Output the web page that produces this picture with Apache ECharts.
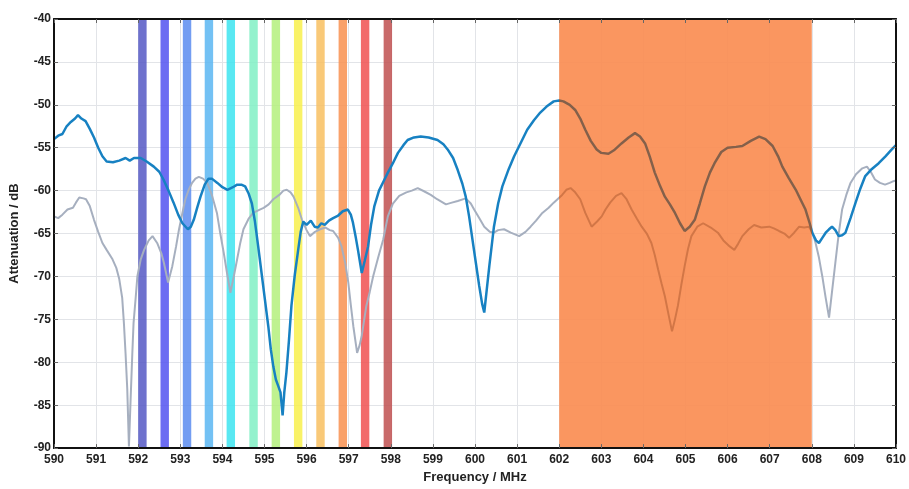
<!DOCTYPE html>
<html>
<head>
<meta charset="utf-8">
<script src="https://cdn.jsdelivr.net/npm/echarts@6/dist/echarts.min.js"></script>
<style>html,body{margin:0;padding:0;background:#fff}#c{width:909px;height:489px}</style>
</head>
<body>
<div id="c"></div>
<script>
// ---- data ----
const blueFreq = [590.0,590.1,590.2,590.3,590.4,590.5,590.57,590.65,590.75,590.85,590.95,591.05,591.15,591.25,591.4,591.55,591.7,591.8,591.9,592.06,592.2,592.37,592.5,592.6,592.72,592.84,592.95,593.05,593.18,593.25,593.32,593.4,593.48,593.58,593.67,593.75,593.88,594.0,594.12,594.25,594.35,594.45,594.54,594.62,594.7,594.77,594.85,594.93,595.01,595.09,595.15,595.21,595.27,595.33,595.38,595.43,595.47,595.52,595.58,595.64,595.72,595.8,595.86,595.92,596.0,596.04,596.1,596.19,596.27,596.35,596.43,596.53,596.63,596.75,596.86,596.98,597.05,597.1,597.17,597.22,597.31,597.38,597.46,597.53,597.61,597.72,597.85,597.93,598.05,598.17,598.3,598.4,598.55,598.71,598.9,599.11,599.25,599.35,599.48,599.59,599.7,599.78,599.86,599.94,600.02,600.1,600.17,600.22,600.28,600.34,600.4,600.45,600.55,600.65,600.8,600.93,601.1,601.24,601.4,601.55,601.7,601.87,602.0,602.1,602.25,602.38,602.5,602.62,602.75,602.89,603.0,603.17,603.3,603.48,603.65,603.8,603.92,604.04,604.15,604.27,604.4,604.51,604.63,604.75,604.87,604.98,605.1,605.22,605.34,605.46,605.58,605.69,605.85,606.0,606.2,606.35,606.55,606.75,606.9,607.07,607.2,607.3,607.45,607.62,607.75,607.85,607.95,608.01,608.1,608.17,608.25,608.33,608.41,608.48,608.56,608.64,608.72,608.8,608.92,609.04,609.15,609.27,609.4,609.59,609.75,609.9,610.0];
const blueDb = [-54.0,-53.6,-53.4,-52.5,-52.0,-51.6,-51.2,-51.6,-51.9,-52.8,-53.8,-55.0,-56.0,-56.6,-56.7,-56.5,-56.2,-56.5,-56.2,-56.2,-56.6,-57.2,-57.8,-58.7,-60.0,-61.4,-62.8,-63.8,-64.5,-64.2,-63.4,-62.0,-60.7,-59.3,-58.6,-58.6,-59.1,-59.6,-59.9,-59.6,-59.3,-59.3,-59.5,-60.3,-61.5,-63.5,-66.5,-69.6,-72.7,-75.8,-78.5,-80.5,-82.0,-82.8,-83.5,-86.2,-83.5,-81.2,-77.5,-73.4,-69.8,-66.9,-64.8,-63.6,-64.0,-64.0,-63.5,-64.2,-64.3,-63.8,-64.0,-63.5,-63.2,-62.9,-62.4,-62.2,-62.8,-63.7,-65.5,-66.9,-69.6,-68.2,-66.5,-64.0,-61.8,-60.0,-58.7,-57.9,-56.8,-55.6,-54.7,-54.1,-53.8,-53.7,-53.8,-54.1,-54.6,-55.2,-56.2,-57.6,-59.2,-60.7,-63.0,-65.7,-68.4,-71.1,-73.2,-74.2,-71.5,-68.8,-66.3,-64.2,-61.5,-59.5,-57.5,-56.0,-54.3,-52.9,-51.8,-50.9,-50.2,-49.6,-49.5,-49.6,-50.0,-50.6,-51.6,-52.9,-54.2,-55.2,-55.6,-55.7,-55.3,-54.5,-53.8,-53.3,-53.7,-54.5,-56.0,-57.9,-59.5,-60.7,-61.6,-62.6,-63.8,-64.7,-64.2,-63.4,-61.5,-59.5,-57.9,-56.8,-55.5,-55.0,-54.9,-54.8,-54.2,-53.7,-54.0,-54.8,-56.0,-57.2,-58.5,-59.9,-61.2,-62.2,-63.8,-64.9,-65.8,-66.1,-65.5,-64.9,-64.5,-64.2,-64.6,-65.3,-65.2,-64.9,-63.2,-61.4,-59.8,-58.3,-57.6,-56.8,-56.0,-55.2,-54.7];

const grayFreq = [590.0,590.1,590.2,590.32,590.45,590.52,590.6,590.7,590.76,590.85,590.95,591.05,591.15,591.25,591.39,591.48,591.55,591.62,591.66,591.7,591.74,591.78,591.82,591.86,591.89,591.94,591.98,592.06,592.14,592.25,592.34,592.45,592.55,592.61,592.71,592.81,592.9,592.97,593.05,593.12,593.2,593.28,593.36,593.44,593.54,593.64,593.75,593.87,593.95,594.03,594.11,594.19,594.27,594.35,594.42,594.5,594.62,594.73,594.85,594.98,595.1,595.21,595.35,595.45,595.53,595.62,595.69,595.8,595.89,596.0,596.08,596.2,596.32,596.45,596.55,596.63,596.75,596.83,596.92,596.99,597.05,597.11,597.2,597.26,597.31,597.42,597.5,597.58,597.7,597.82,597.93,598.05,598.2,598.37,598.5,598.64,598.8,598.95,599.1,599.31,599.45,599.59,599.78,599.9,599.98,600.1,600.22,600.35,600.45,600.55,600.69,600.85,601.05,601.2,601.32,601.45,601.6,601.75,601.87,602.07,602.17,602.27,602.38,602.5,602.62,602.77,602.9,603.01,603.1,603.21,603.35,603.48,603.6,603.72,603.85,603.96,604.08,604.19,604.27,604.35,604.43,604.51,604.6,604.68,604.75,604.82,604.9,604.98,605.06,605.14,605.28,605.42,605.6,605.77,605.9,606.05,606.16,606.25,606.35,606.5,606.63,606.8,606.99,607.1,607.22,607.35,607.46,607.58,607.7,607.82,607.93,608.02,608.09,608.17,608.25,608.33,608.41,608.48,608.56,608.64,608.72,608.82,608.92,609.05,609.2,609.31,609.4,609.5,609.62,609.74,609.85,609.94,610.0];
const grayDb = [-63.0,-63.2,-62.8,-62.2,-62.0,-61.4,-60.8,-60.9,-61.0,-61.8,-63.4,-64.8,-66.1,-66.9,-68.0,-69.0,-70.3,-72.5,-75.4,-79.0,-83.1,-89.8,-84.3,-79.0,-75.4,-72.5,-70.0,-68.0,-66.9,-65.8,-65.3,-66.1,-67.3,-68.4,-70.7,-68.8,-66.5,-64.5,-62.6,-61.0,-59.9,-59.1,-58.6,-58.4,-58.6,-59.1,-60.5,-62.6,-65.0,-67.2,-69.6,-71.9,-70.0,-68.0,-66.2,-64.5,-63.3,-62.6,-62.3,-62.0,-61.6,-61.0,-60.5,-60.0,-59.9,-60.2,-60.7,-62.0,-63.4,-64.6,-65.3,-64.8,-64.5,-64.3,-64.6,-64.7,-65.5,-66.5,-68.5,-70.7,-73.3,-75.8,-78.9,-78.0,-76.9,-73.4,-71.8,-70.0,-67.8,-65.7,-63.0,-61.5,-60.6,-60.2,-60.0,-59.7,-60.1,-60.5,-61.0,-61.6,-61.4,-61.2,-60.9,-61.5,-62.2,-63.2,-64.2,-64.8,-64.9,-64.6,-64.5,-64.9,-65.3,-64.8,-64.2,-63.5,-62.6,-62.0,-61.4,-60.5,-59.9,-59.7,-60.2,-61.0,-62.6,-64.2,-63.6,-63.0,-62.2,-61.4,-60.6,-60.3,-61.0,-62.2,-63.3,-64.2,-65.0,-66.1,-67.5,-69.2,-70.8,-72.3,-74.5,-76.4,-75.0,-73.4,-71.0,-68.8,-66.8,-65.3,-64.2,-63.8,-64.3,-64.9,-65.8,-66.5,-66.9,-66.2,-65.3,-64.5,-64.0,-64.3,-64.2,-64.4,-64.7,-65.0,-65.5,-64.9,-64.2,-64.3,-64.2,-64.9,-66.1,-67.8,-70.0,-72.5,-74.8,-71.8,-68.4,-65.0,-62.2,-60.5,-59.1,-58.1,-57.4,-57.2,-57.8,-58.7,-59.1,-59.3,-59.1,-58.9,-58.8];

const bandCenters = [592.1,592.63,593.16,593.68,594.2,594.74,595.27,595.8,596.33,596.86,597.39,597.93];
const bandColors = ['#5558c4','#5252f0','#5a8cf0','#5ab6f2','#3ce4f0','#80f0c4','#b4f07c','#f8f04c','#f8c060','#f89050','#f05050','#c05050'];
const bandHalfWidth = 0.1;
const blockRange = [602, 608];

const xTicks = {min: 590, max: 610, interval: 1};
const yTicks = {min: -90, max: -40, interval: 5};

// ---- build ----
const zip = (a, b) => a.map((v, i) => [v, b[i]]);
const font = 'Liberation Sans, Arial, sans-serif';
const lbl = {fontWeight: 'bold', fontSize: 12, color: '#222', fontFamily: font};
const nameStyle = {fontWeight: 'bold', fontSize: 13, color: '#222', fontFamily: font};

const boxAxis = (extra) => Object.assign({
  type: 'value', z: 10,
  axisLine: {show: true, onZero: false, lineStyle: {color: '#111', width: 2}},
  axisTick: {show: true, inside: true, length: 4, lineStyle: {color: '#666'}},
  splitLine: {show: false}
}, extra);

const gridAxis = (extra) => Object.assign({
  type: 'value', z: 0,
  axisLine: {show: false}, axisTick: {show: false}, axisLabel: {show: false},
  splitLine: {show: true, lineStyle: {color: '#e2e4e8', width: 1}}
}, extra);

const chart = echarts.init(document.getElementById('c'));
chart.setOption({
  animation: false,
  backgroundColor: '#fff',
  grid: {left: 53, right: 11, top: 19, bottom: 40},
  xAxis: [
    boxAxis(Object.assign({position: 'bottom', name: 'Frequency / MHz', nameLocation: 'middle', nameGap: 22,
      nameTextStyle: nameStyle, axisLabel: Object.assign({margin: 6}, lbl)}, xTicks)),
    boxAxis(Object.assign({position: 'top', axisLabel: {show: false}}, xTicks)),
    gridAxis(Object.assign({position: 'bottom'}, xTicks))
  ],
  yAxis: [
    boxAxis(Object.assign({position: 'left', name: 'Attenuation / dB', nameLocation: 'middle', nameGap: 33,
      nameTextStyle: nameStyle, axisLabel: Object.assign({margin: 3}, lbl)}, yTicks)),
    boxAxis(Object.assign({position: 'right', axisLabel: {show: false}}, yTicks)),
    gridAxis(Object.assign({position: 'left'}, yTicks))
  ],
  visualMap: [
    {type: 'piecewise', show: false, dimension: 0, seriesIndex: 1,
      pieces: [{lt: blockRange[0], color: '#a6afbf'}, {gte: blockRange[0], lte: blockRange[1], color: '#d27646'}, {gt: blockRange[1], color: '#a6afbf'}]},
    {type: 'piecewise', show: false, dimension: 0, seriesIndex: 2,
      pieces: [{lt: blockRange[0], color: '#1781c2'}, {gte: blockRange[0], lte: blockRange[1], color: '#84604a'}, {gt: blockRange[1], color: '#1781c2'}]}
  ],
  series: [
    {type: 'line', z: 1, data: [[590, -40]], showSymbol: false, silent: true,
      markArea: {silent: true, itemStyle: {color: '#fa8e54', opacity: 0.93},
        data: [[{xAxis: blockRange[0], yAxis: -40}, {xAxis: blockRange[1], yAxis: -90}]]}},
    {type: 'line', z: 2, name: 'gray', data: zip(grayFreq, grayDb), showSymbol: false, smooth: false,
      lineStyle: {width: 2}},
    {type: 'line', z: 2, name: 'blue', data: zip(blueFreq, blueDb), showSymbol: false, smooth: false,
      lineStyle: {width: 2.5}},
    {type: 'line', z: 3, data: [[590, -40]], showSymbol: false, silent: true,
      markArea: {silent: true,
        data: bandCenters.map((c, i) => [
          {xAxis: c - bandHalfWidth, yAxis: -40, itemStyle: {color: bandColors[i], opacity: 0.85}},
          {xAxis: c + bandHalfWidth, yAxis: -90}
        ])}}
  ]
});
</script>
</body>
</html>
